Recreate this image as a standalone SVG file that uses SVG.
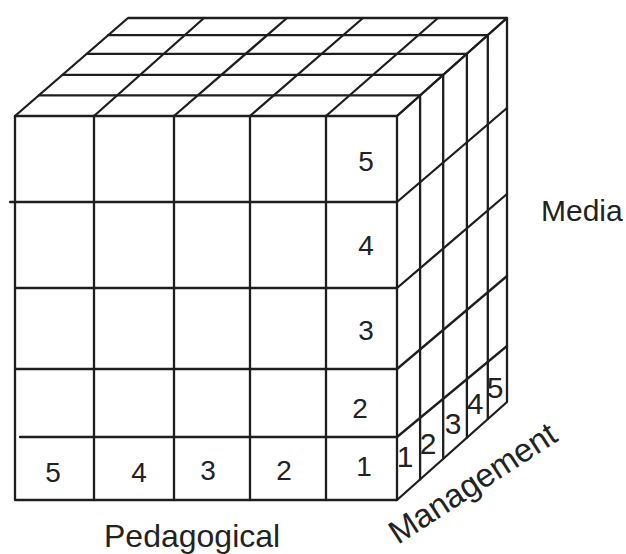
<svg xmlns="http://www.w3.org/2000/svg" width="626" height="554" viewBox="0 0 626 554">
<style>
.ln{stroke:#1e1e1e;stroke-width:2.3;fill:none;stroke-linecap:round;stroke-linejoin:round}
.num{font-family:"Liberation Sans",Arial,sans-serif;font-size:28px;fill:#222;text-anchor:middle}
.rnum{font-family:"Liberation Sans",Arial,sans-serif;font-size:30px;fill:#222;text-anchor:middle}
.lab{font-family:"Liberation Sans",Arial,sans-serif;fill:#222}
</style>
<rect width="626" height="554" fill="#ffffff"/>
<g id="top-face" class="ln">
<path d="M15,116 L128,18 L507,18 L397,116"/>
<path d="M38.7,95.4 H420.1 M62.5,74.8 H443.2 M86.8,53.8 H466.9 M108.2,35.2 H487.8"/>
<path d="M94,116 L204,18 M174,116 L287,18 M250,116 L363,18 M326,116 L438,18"/>
</g>
<g id="right-face" class="ln">
<path d="M397,116 L507,18 L507,402 L397,500"/>
<path d="M420.1,95.4 V479.4 M443.2,74.8 V458.8 M466.9,53.8 V437.8 M487.8,35.2 V419.2"/>
<path d="M397,202 L507,108 M397,288 L507,194 M397,369 L507,276 M397,437 L507,346"/>
</g>
<g id="front-face" class="ln">
<rect x="15" y="116" width="382" height="384"/>
<path d="M94,116 V500 M174,116 V500 M250,116 V500 M326,116 V500"/>
<path d="M10,202 H397 M15,288 H397 M15,369 H397 M20,437 H397"/>
</g>
<g id="media-levels">
<text class="num" x="366" y="171">5</text>
<text class="num" x="366" y="255">4</text>
<text class="num" x="366" y="340">3</text>
<text class="num" x="360" y="418">2</text>
<text class="num" x="364" y="476">1</text>
</g>
<g id="pedagogical-levels">
<text class="num" x="53" y="482">5</text>
<text class="num" x="139" y="482">4</text>
<text class="num" x="208" y="480">3</text>
<text class="num" x="284" y="480">2</text>
</g>
<g id="management-levels">
<text class="rnum" x="405" y="467">1</text>
<text class="rnum" x="428" y="454">2</text>
<text class="rnum" x="453" y="434">3</text>
<text class="rnum" x="475" y="414">4</text>
<text class="rnum" x="495" y="398">5</text>
</g>
<g id="axis-labels">
<text class="lab" x="541" y="221" font-size="30">Media</text>
<text class="lab" x="104" y="547" font-size="32">Pedagogical</text>
<text class="lab" x="398" y="545" font-size="33" transform="rotate(-33 398 545)">Management</text>
</g>
</svg>
